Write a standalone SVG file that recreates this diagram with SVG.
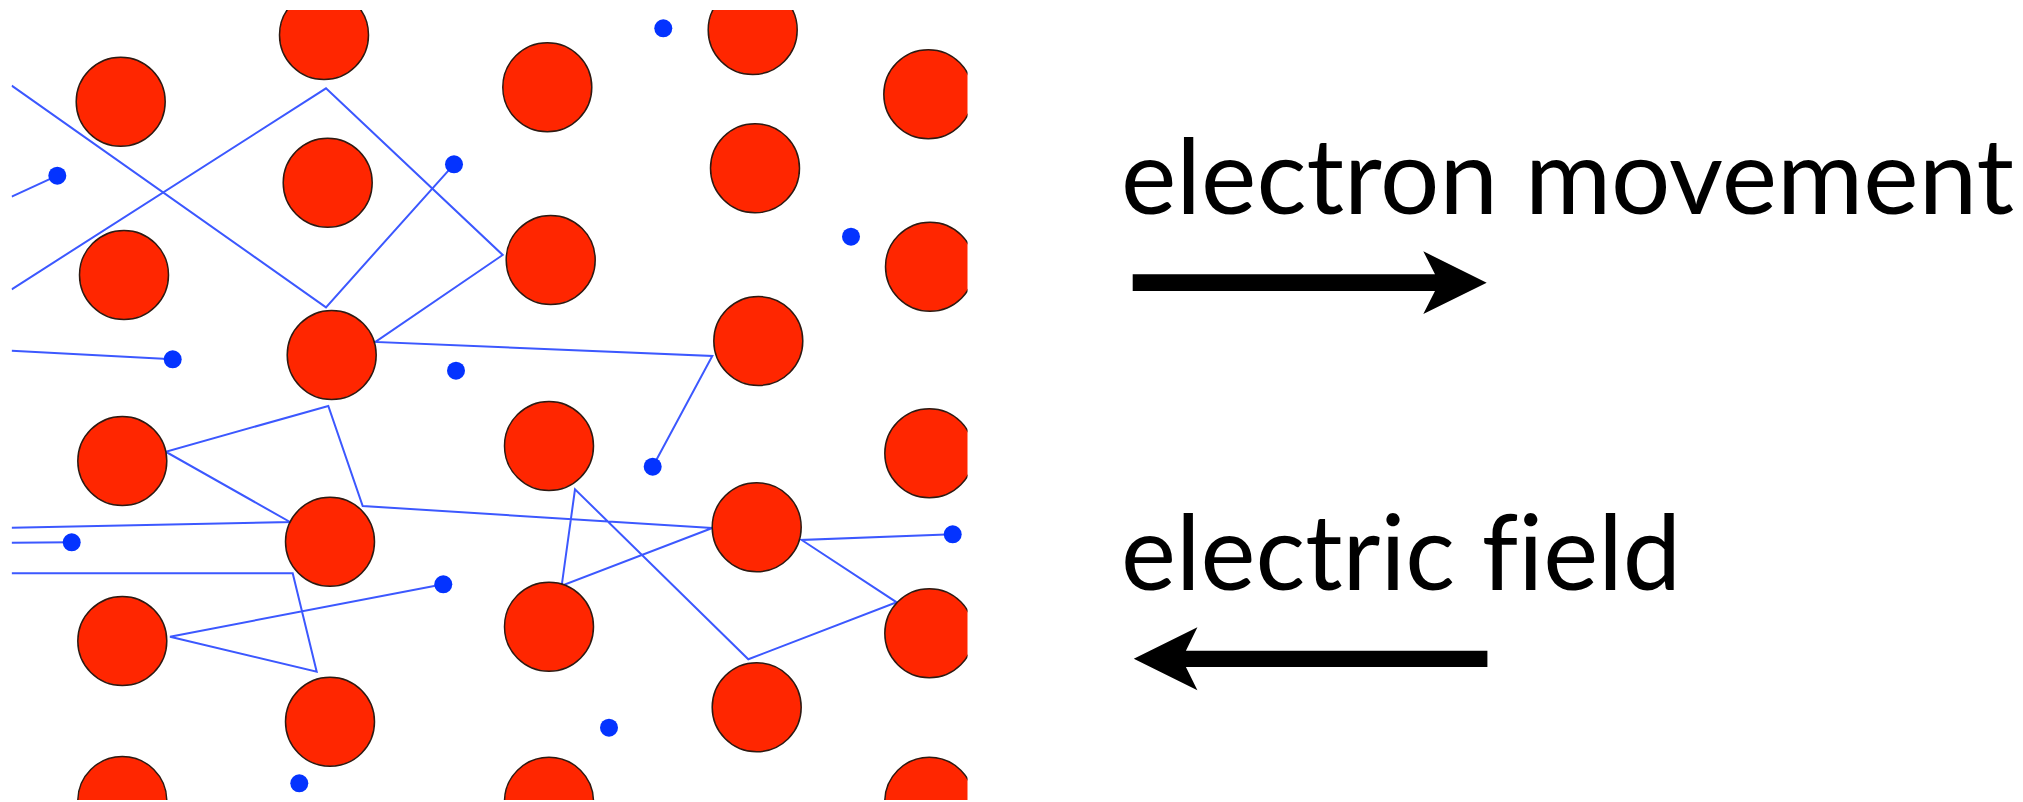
<svg xmlns="http://www.w3.org/2000/svg" width="2023" height="802" viewBox="0 0 2023 802">
  <style>
    .ion { fill: #ff2600; stroke: #2e1a12; stroke-width: 1.5; }
    .electron { fill: #0433ff; }
    .track { fill: none; stroke: #3c58ff; stroke-width: 2; stroke-linejoin: miter; }
    .label { font-family: "Lato", "Open Sans", "Liberation Sans", sans-serif; font-size: 105px; fill: #000;
             font-variant-ligatures: none; font-feature-settings: "liga" 0, "clig" 0; }
    .arrow { fill: #000; }
  </style>
  <defs>
    <clipPath id="lattice-clip">
      <rect x="11.5" y="10" width="956" height="790"/>
    </clipPath>
  </defs>

  <rect width="2023" height="802" fill="#fff"/>

  <g id="lattice" clip-path="url(#lattice-clip)">
    <!-- electron trajectories, bouncing off the ions -->
    <g id="connectors">
      <polyline class="track" points="11.7,85.6 326,307.3 454,164.3"/>
      <polyline class="track" points="11.7,289.3 326,88.3 502.7,255 375.4,342 712.3,356 652.7,466.7"/>
      <polyline class="track" points="11.7,196.7 57.3,175.7"/>
      <polyline class="track" points="11.7,350.7 172.7,359.3"/>
      <polyline class="track" points="11.7,527.7 290,522 165.7,451.7 328.3,406 362.7,506 712.3,528 561.7,585.7 575,489.3 748.3,659.3 896.7,602.3 801.7,540 952.7,534.3"/>
      <polyline class="track" points="11.7,542.7 71.7,542.3"/>
      <polyline class="track" points="11.7,573.3 292.7,573.3 316.7,671.7 170,636.7 443.3,584.3"/>
    </g>

    <!-- positive ions of the metal lattice -->
    <g id="ions">
      <circle class="ion" cx="120.7" cy="101.7" r="44.5"/>
      <circle class="ion" cx="124" cy="275" r="44.5"/>
      <circle class="ion" cx="122.3" cy="461" r="44.5"/>
      <circle class="ion" cx="122.3" cy="641" r="44.5"/>
      <circle class="ion" cx="122.3" cy="801" r="44.5"/>

      <circle class="ion" cx="324" cy="35" r="44.5"/>
      <circle class="ion" cx="327.7" cy="182.7" r="44.5"/>
      <circle class="ion" cx="331.7" cy="355" r="44.5"/>
      <circle class="ion" cx="330" cy="541.7" r="44.5"/>
      <circle class="ion" cx="330" cy="721.7" r="44.5"/>

      <circle class="ion" cx="547.3" cy="87.3" r="44.5"/>
      <circle class="ion" cx="550.7" cy="260" r="44.5"/>
      <circle class="ion" cx="549" cy="446" r="44.5"/>
      <circle class="ion" cx="549" cy="626.7" r="44.5"/>
      <circle class="ion" cx="549" cy="801.7" r="44.5"/>

      <circle class="ion" cx="752.7" cy="30" r="44.5"/>
      <circle class="ion" cx="755" cy="168.3" r="44.5"/>
      <circle class="ion" cx="758.3" cy="341" r="44.5"/>
      <circle class="ion" cx="756.7" cy="527.3" r="44.5"/>
      <circle class="ion" cx="756.7" cy="707.3" r="44.5"/>

      <circle class="ion" cx="928.3" cy="94.3" r="44.5"/>
      <circle class="ion" cx="930" cy="266.7" r="44.5"/>
      <circle class="ion" cx="929.3" cy="453.3" r="44.5"/>
      <circle class="ion" cx="929.3" cy="633.3" r="44.5"/>
      <circle class="ion" cx="929.3" cy="801.7" r="44.5"/>
    </g>

    <!-- free electrons -->
    <g id="electrons">
      <circle class="electron" cx="57.3" cy="175.7" r="9"/>
      <circle class="electron" cx="454" cy="164.3" r="9"/>
      <circle class="electron" cx="172.7" cy="359.3" r="9"/>
      <circle class="electron" cx="456" cy="370.7" r="9"/>
      <circle class="electron" cx="663.3" cy="28.3" r="9"/>
      <circle class="electron" cx="851" cy="236.7" r="9"/>
      <circle class="electron" cx="652.7" cy="466.7" r="9"/>
      <circle class="electron" cx="71.7" cy="542.3" r="9"/>
      <circle class="electron" cx="443.3" cy="584.3" r="9"/>
      <circle class="electron" cx="299.3" cy="783.3" r="9"/>
      <circle class="electron" cx="952.7" cy="534.3" r="9"/>
      <circle class="electron" cx="609" cy="727.7" r="9"/>
    </g>
  </g>

  <g id="legend-movement">
    <text class="label" x="1121" y="213.8" textLength="893" lengthAdjust="spacingAndGlyphs">electron movement</text>
    <polygon class="arrow" points="1132.7,274.3 1435,274.3 1423.3,251.3 1486.7,282.7 1423.3,314 1435,291 1132.7,291"/>
  </g>

  <g id="legend-field">
    <text class="label" x="1121" y="589.8" textLength="560" lengthAdjust="spacingAndGlyphs">electric field</text>
    <polygon class="arrow" points="1487.4,650.7 1185.9,650.7 1197.4,627.3 1133.8,658.8 1197.4,690.3 1185.9,667 1487.4,667"/>
  </g>
</svg>
